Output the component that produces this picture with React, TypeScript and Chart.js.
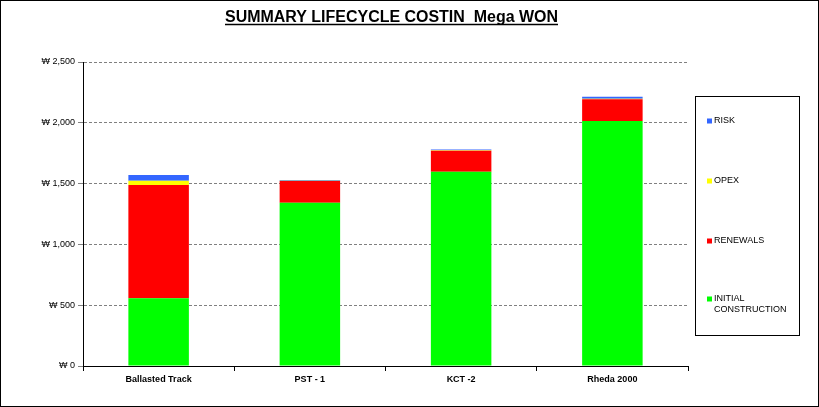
import React, { useEffect, useRef } from "react";
import { Chart, registerables } from "chart.js";

Chart.register(...registerables);

const categories = ["Ballasted Track", "PST - 1", "KCT -2", "Rheda 2000"];
const initialConstruction = [557, 1343, 1598, 2015];
const renewals = [931, 178, 173, 178];
const opex = [36, 3, 3, 5];
const risk = [47, 6, 6, 17];
const yTicks = [0, 500, 1000, 1500, 2000, 2500];
const legendItems = [
  { label: ["RISK"], color: "#3366FF" },
  { label: ["OPEX"], color: "#FFFF00" },
  { label: ["RENEWALS"], color: "#FF0000" },
  { label: ["INITIAL", "CONSTRUCTION"], color: "#00FF00" },
];
const titleText = "SUMMARY LIFECYCLE COSTIN  Mega WON";

const FONT = "'Liberation Sans', Arial, sans-serif";

const decorPlugin = {
  id: "decor",
  afterDraw(chart: any) {
    const ctx = chart.ctx as CanvasRenderingContext2D;
    const W = chart.width;
    const H = chart.height;
    ctx.save();
    // outer border
    ctx.strokeStyle = "#000";
    ctx.lineWidth = 1;
    ctx.strokeRect(0.5, 0.5, W - 1, H - 1);

    // title
    ctx.font = `bold 16px ${FONT}`;
    ctx.fillStyle = "#000";
    ctx.textBaseline = "alphabetic";
    const targetW = 333;
    const w = ctx.measureText(titleText).width;
    const sx = targetW / w;
    const x0 = 225;
    ctx.save();
    ctx.translate(x0, 22);
    ctx.scale(sx, 1);
    ctx.textAlign = "left";
    ctx.fillText(titleText, 0, 0);
    ctx.restore();
    ctx.beginPath();
    ctx.lineWidth = 1.5;
    ctx.moveTo(x0, 24.5);
    ctx.lineTo(x0 + targetW, 24.5);
    ctx.stroke();

    // legend box
    ctx.lineWidth = 1;
    ctx.strokeRect(695.5, 96.5, 104, 239);
    const ys = [121, 181, 241, 299];
    ctx.font = `9px ${FONT}`;
    ctx.textBaseline = "middle";
    ctx.textAlign = "left";
    legendItems.forEach((it, i) => {
      const y = ys[i];
      ctx.fillStyle = it.color;
      ctx.fillRect(707, y - 2.5, 5, 5);
      ctx.fillStyle = "#000";
      it.label.forEach((l, j) => {
        ctx.fillText(l, 714, y + j * 11);
      });
    });
    ctx.restore();
  },
};

export default function App() {
  const ref = useRef<HTMLCanvasElement | null>(null);
  useEffect(() => {
    document.body.style.margin = "0";
    const canvas = ref.current!;
    const chart = new Chart(canvas, {
      type: "bar",
      data: {
        labels: categories,
        datasets: [
          { label: "INITIAL CONSTRUCTION", data: initialConstruction, backgroundColor: "#00FF00" },
          { label: "RENEWALS", data: renewals, backgroundColor: "#FF0000" },
          { label: "OPEX", data: opex, backgroundColor: "#FFFF00" },
          { label: "RISK", data: risk, backgroundColor: "#3366FF" },
        ],
      },
      options: {
        animation: false,
        responsive: false,
        maintainAspectRatio: false,
        layout: { padding: { top: 62, right: 131, left: 0, bottom: 0 } },
        plugins: {
          legend: { display: false },
          title: { display: false },
          tooltip: { enabled: false },
        },
        datasets: { bar: { barPercentage: 0.4, categoryPercentage: 1 } },
        scales: {
          x: {
            stacked: true,
            grid: {
              display: true,
              drawOnChartArea: false,
              drawTicks: true,
              tickLength: 5,
              color: "#000",
              offset: true,
            },
            border: { display: true, color: "#000", width: 1 },
            ticks: {
              color: "#000",
              font: { family: FONT, size: 9, weight: "bold" },
              padding: 3,
              maxRotation: 0,
            },
            afterFit(scale: any) {
              scale.height = 41;
            },
          },
          y: {
            stacked: true,
            min: 0,
            max: 2500,
            afterBuildTicks(scale: any) {
              scale.ticks = yTicks.map((v) => ({ value: v }));
            },
            grid: {
              color: "#808080",
              drawTicks: true,
              tickLength: 5,
              lineWidth: 1,
            },
            border: { display: true, color: "#000", width: 1, dash: [3, 2] },
            ticks: {
              color: "#000",
              font: { family: FONT, size: 9 },
              padding: 3,
              callback: (v: any) => "\u20A9 " + Number(v).toLocaleString("en-US"),
            },
            afterFit(scale: any) {
              scale.width = 83;
            },
          },
        },
      },
      plugins: [decorPlugin],
    } as any);
    return () => chart.destroy();
  }, []);
  return (
    <div style={{ width: 819, height: 407 }}>
      <canvas ref={ref} width={819} height={407} style={{ display: "block" }} />
    </div>
  );
}
